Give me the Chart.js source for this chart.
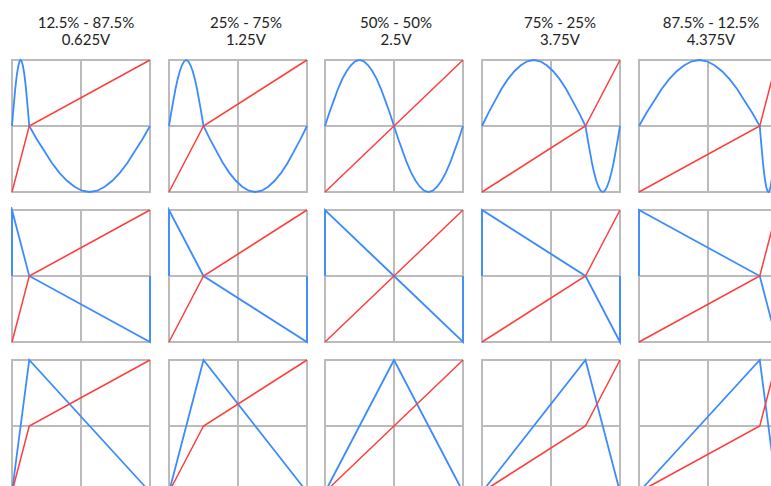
<!DOCTYPE html>
<html>
<head>
<meta charset="utf-8">
<script src="https://cdn.jsdelivr.net/npm/chart.js@4"></script>
<style>
body { margin:0; width:771px; height:486px; overflow:hidden; background:#fff; position:relative; font-family: Lato, "DejaVu Sans", sans-serif; }
.title { position:absolute; width:160px; text-align:center; font-size:15px; line-height:17px; color:#222; }
canvas { position:absolute; }
</style>
</head>
<body>
<script>
// column headers
const ratioLabels = ["12.5% - 87.5%", "25% - 75%", "50% - 50%", "75% - 25%", "87.5% - 12.5%"];
const voltLabels = ["0.625V", "1.25V", "2.5V", "3.75V", "4.375V"];
const titleCenters = [86, 246, 396, 560, 711];

// where the red phase line bends (x at which phase reaches half a cycle)
const kneeX = [0.125, 0.25, 0.5, 0.75, 0.875];

// red phase line: phase 0 -> 0.5 -> 1 drawn as -1 -> 0 -> 1
const redPhase = [0, 0.5, 1];
const redY = [-1, 0, 1];

// blue waveforms, given against phase (sine read every 1/32 of a cycle)
const sinePhase = [0, 0.03125, 0.0625, 0.09375, 0.125, 0.15625, 0.1875, 0.21875, 0.25,
                   0.28125, 0.3125, 0.34375, 0.375, 0.40625, 0.4375, 0.46875, 0.5,
                   0.53125, 0.5625, 0.59375, 0.625, 0.65625, 0.6875, 0.71875, 0.75,
                   0.78125, 0.8125, 0.84375, 0.875, 0.90625, 0.9375, 0.96875, 1];
const sineY = [0, 0.2, 0.38, 0.56, 0.71, 0.83, 0.92, 0.98, 1,
               0.98, 0.92, 0.83, 0.71, 0.56, 0.38, 0.2, 0,
               -0.2, -0.38, -0.56, -0.71, -0.83, -0.92, -0.98, -1,
               -0.98, -0.92, -0.83, -0.71, -0.56, -0.38, -0.2, 0];
const sawPhase = [0, 0, 0.5, 1, 1];
const sawY = [0, 1, 0, -1, 0];
const triPhase = [0, 0.5, 1];
const triY = [-1, 1, -1];

const waves = [
  { phase: sinePhase, y: sineY },
  { phase: sawPhase, y: sawY },
  { phase: triPhase, y: triY }
];

const boxLeft = [12, 169, 325, 482, 639];
const boxTop = [60, 210, 360];
const boxW = 138, boxH = 132, PAD = 4;
const GRID = "#bbbbbb";

// phase -> x along the bent red line
function phaseToX(p, knee) {
  return p <= 0.5 ? knee * p * 2 : knee + (1 - knee) * (p - 0.5) * 2;
}

ratioLabels.forEach((t, c) => {
  let d = document.createElement("div");
  d.className = "title";
  d.style.left = (titleCenters[c] - 80) + "px";
  d.style.top = "14px";
  d.innerHTML = t + "<br>" + voltLabels[c];
  document.body.appendChild(d);
});

waves.forEach((w, r) => {
  kneeX.forEach((knee, c) => {
    let cv = document.createElement("canvas");
    cv.width = boxW + PAD * 2;
    cv.height = boxH + PAD * 2;
    cv.style.left = (boxLeft[c] - PAD) + "px";
    cv.style.top = (boxTop[r] - PAD) + "px";
    document.body.appendChild(cv);

    let red = redPhase.map((p, i) => ({ x: phaseToX(p, knee), y: redY[i] }));
    let blue = w.phase.map((p, i) => ({ x: phaseToX(p, knee), y: w.y[i] }));

    new Chart(cv, {
      type: "line",
      data: {
        datasets: [{
          data: red,
          borderColor: "#ff3d3d",
          borderWidth: 1.5,
          pointRadius: 0,
          clip: 3
        }, {
          data: blue,
          borderColor: "#3b8bff",
          borderWidth: 1.8,
          pointRadius: 0,
          tension: 0,
          clip: 3
        }]
      },
      options: {
        responsive: false,
        animation: false,
        events: [],
        layout: { padding: PAD },
        plugins: { legend: { display: false }, tooltip: { enabled: false } },
        scales: {
          x: {
            type: "linear", min: 0, max: 1,
            ticks: { display: false, stepSize: 0.5 },
            grid: { color: GRID, lineWidth: 2, drawTicks: false },
            border: { color: GRID, width: 2 },
            afterFit(s) { s.height = 0; }
          },
          y: {
            type: "linear", min: -1, max: 1,
            ticks: { display: false, stepSize: 1 },
            grid: { color: GRID, lineWidth: 2, drawTicks: false },
            border: { color: GRID, width: 2 },
            afterFit(s) { s.width = 0; }
          }
        }
      }
    });
  });
});
</script>
</body>
</html>
